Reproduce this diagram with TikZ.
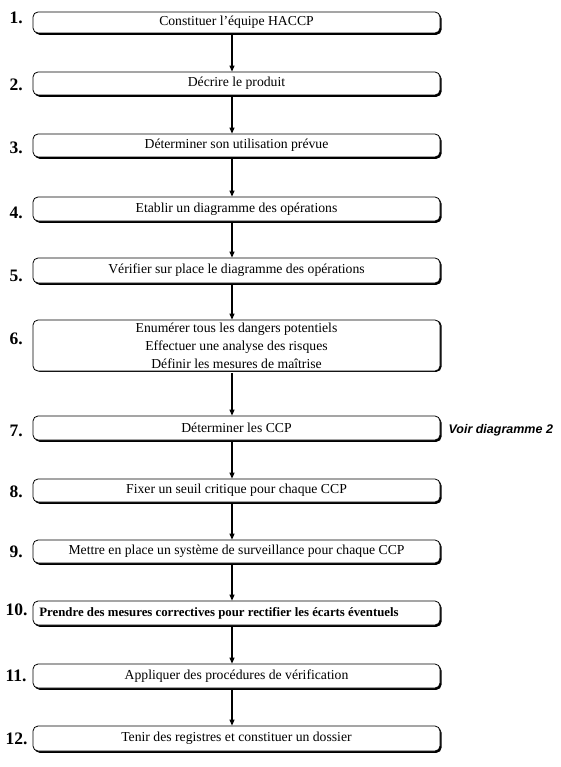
\documentclass[tikz,border=0pt]{standalone}
\usepackage{fontspec}
\setmainfont{Liberation Serif}
\newfontfamily\voirfont{Liberation Sans}
\usetikzlibrary{arrows.meta}
\begin{document}
\begin{tikzpicture}[x=1pt,y=-1pt,
  stepbox/.style={draw=black, line width=0.8pt, rounded corners=5pt, fill=white,
    minimum width=407pt, inner sep=0pt, align=center, font=\fontsize{13.7}{18}\selectfont},
  num/.style={anchor=west, font=\fontsize{17.5}{20}\selectfont\bfseries},
  arr/.style={-{Triangle[length=6pt,width=5pt]}, line width=1.1pt}]
\useasboundingbox (0,0) rectangle (561,767);
\def\bx{236.5}
\foreach \t/\b in {12/33, 72/95, 134/157, 197/221, 258/283, 319/370, 416/440, 479/502, 540/563, 601/625, 664/688, 726/751}{
  \fill[black, rounded corners=5pt] (34.5,\t+1.5) rectangle (441.5,\b+1.8);
}
\node[stepbox, minimum height=21pt] (a) at (\bx,22.5) {Constituer l'équipe HACCP};
\node[stepbox, minimum height=23pt] (b) at (\bx,83.5) {Décrire le produit};
\node[stepbox, minimum height=23pt] (c) at (\bx,145.5) {Déterminer son utilisation prévue};
\node[stepbox, minimum height=24pt] (d) at (\bx,209) {Etablir un diagramme des opérations};
\node[stepbox, minimum height=25pt] (e) at (\bx,270.5) {Vérifier sur place le diagramme des opérations};
\node[stepbox, minimum height=51pt] (f) at (\bx,345.5) {Enumérer tous les dangers potentiels\\Effectuer une analyse des risques\\Définir les mesures de maîtrise};
\node[stepbox, minimum height=24pt] (g) at (\bx,428) {Déterminer les CCP};
\node[stepbox, minimum height=23pt] (h) at (\bx,490.5) {Fixer un seuil critique pour chaque CCP};
\node[stepbox, minimum height=23pt] (i) at (\bx,551.5) {Mettre en place un système de surveillance pour chaque CCP};
\node[stepbox, minimum height=24pt] (j) at (\bx,613) {};
\node[font=\fontsize{12.8}{18}\selectfont\bfseries, inner sep=0pt] (jt) at (219,613) {Prendre des mesures correctives pour rectifier les écarts éventuels};
\node[stepbox, minimum height=24pt] (k) at (\bx,676) {Appliquer des procédures de vérification};
\node[stepbox, minimum height=25pt] (l) at (\bx,738.5) {Tenir des registres et constituer un dossier};
% numbers
\node[num] (n1) at (6,18) {1.};
\node[num] (n2) at (6,85) {2.};
\node[num] (n3) at (6,148) {3.};
\node[num] (n4) at (6,213) {4.};
\node[num] (n5) at (6,276) {5.};
\node[num] (n6) at (6,339) {6.};
\node[num] (n7) at (6,431) {7.};
\node[num] (n8) at (6,492) {8.};
\node[num] (n9) at (6,552) {9.};
\node[num] (n10) at (2,610) {10.};
\node[num] (n11) at (2,676) {11.};
\node[num] (n12) at (2,739) {12.};
\node[anchor=west, font=\voirfont\fontsize{12.5}{14}\selectfont\bfseries\itshape] (voir) at (445,430) {Voir diagramme 2};
% arrows
\foreach \s/\d in {a/b,b/c,c/d,d/e,e/f,f/g,g/h,h/i,i/j,j/k,k/l}{
  \draw[arr] ([xshift=-4.5pt]\s.south) ++(0,1.8) -- ([xshift=-4.5pt]\d.north);
}
\end{tikzpicture}
\end{document}
